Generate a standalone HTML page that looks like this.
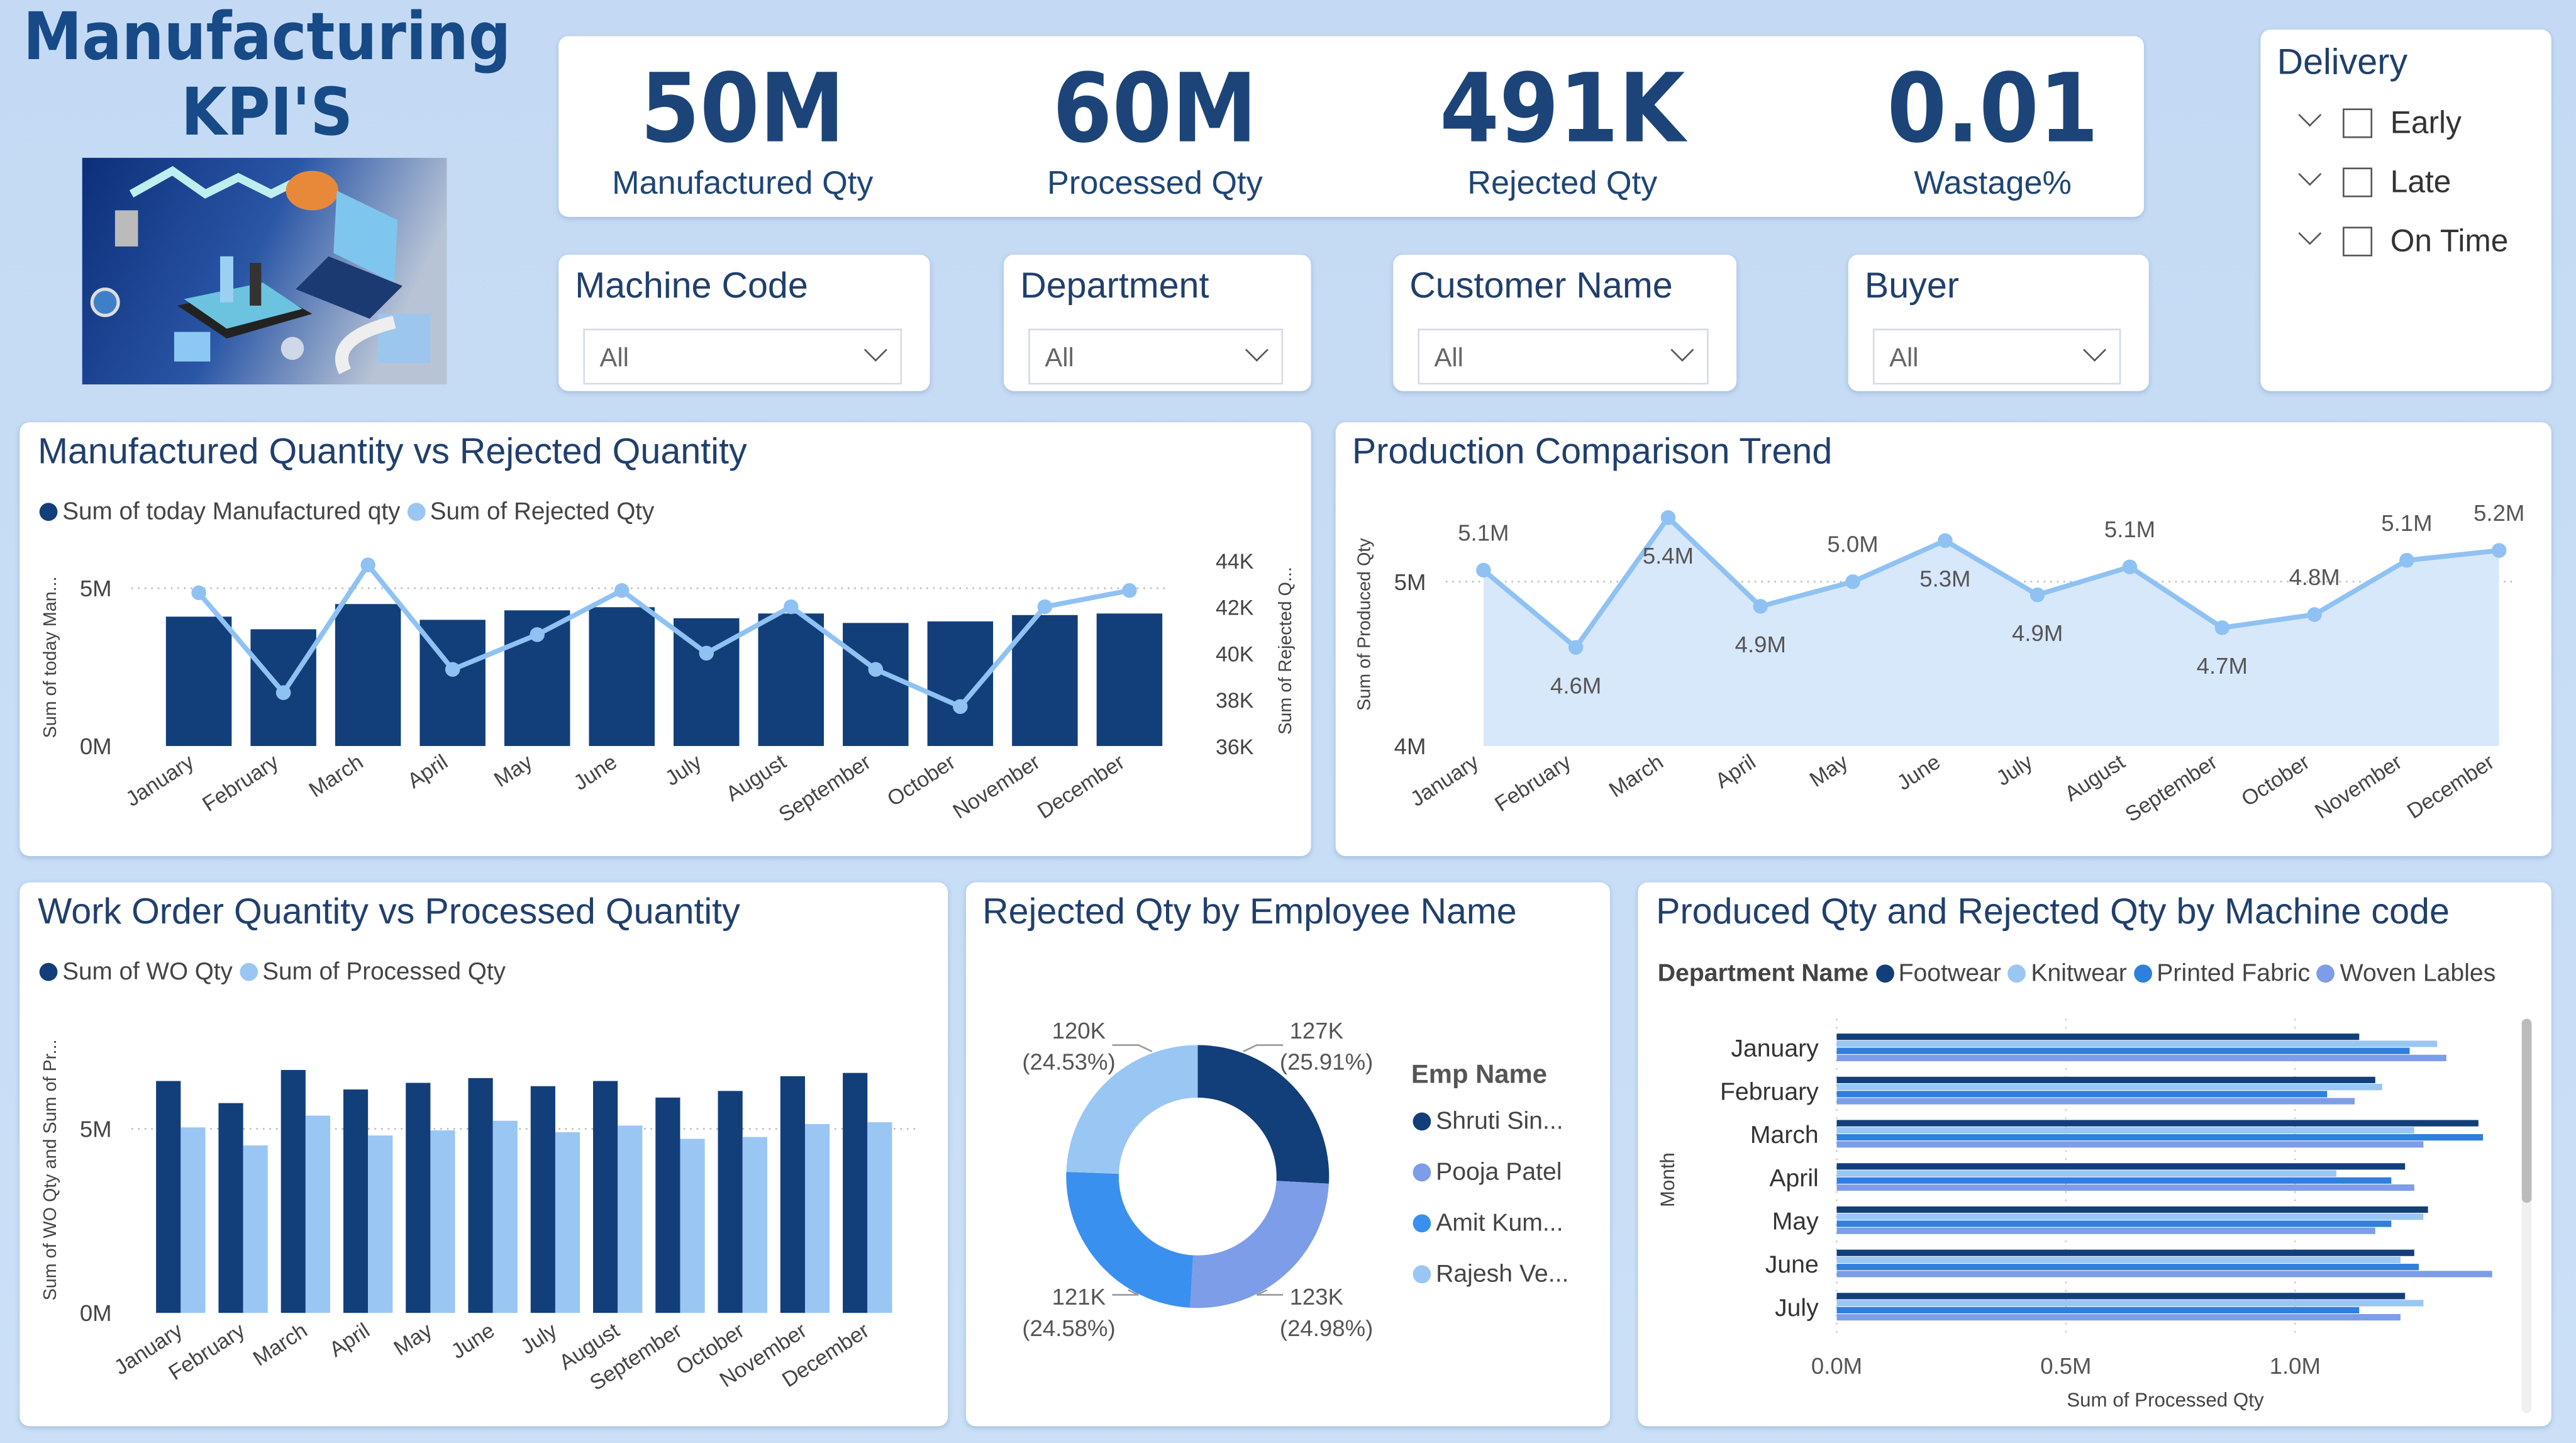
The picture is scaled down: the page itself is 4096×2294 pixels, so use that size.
<!DOCTYPE html>
<html><head><meta charset="utf-8">
<style>
html,body{margin:0;padding:0;}
body{width:4096px;height:2293px;overflow:hidden;background:#c6dcf5;}
#root{position:absolute;left:0;top:0;width:1568px;height:878px;transform:scale(2.61224);transform-origin:0 0;background:linear-gradient(180deg,#c4daf4,#cbe0f7);font-family:"Liberation Sans",sans-serif;color:#253e66;}
.card{position:absolute;background:#fff;border-radius:6px;box-shadow:0 1px 3px rgba(60,90,140,.25);}
.abs{position:absolute;white-space:nowrap;}
.ttl{font-size:22px;color:#203f6d;}
.kv{font-family:"DejaVu Sans Condensed","DejaVu Sans",sans-serif;font-weight:bold;font-size:58px;color:#1c4478;text-align:center;width:240px;}
.kl{font-size:20px;color:#1f4576;text-align:center;width:240px;}
.dd{position:absolute;border:1px solid #d4dbe4;height:32px;font-size:16px;color:#666;}
.dd span{position:absolute;left:9px;top:9px;}
.chev{position:absolute;width:9px;height:9px;border-right:1.6px solid #555;border-bottom:1.6px solid #555;transform:rotate(45deg);}
.leg{font-size:14.8px;color:#444;}
.dot{display:inline-block;width:11px;height:11px;border-radius:50%;vertical-align:-1px;margin-right:3px;}
svg text{font-family:"Liberation Sans",sans-serif;}
</style></head>
<body>
<div id="root">
  <div class="abs" style="left:0;top:0;width:325px;text-align:center;font-family:'DejaVu Sans Condensed','DejaVu Sans',sans-serif;font-weight:bold;font-size:40px;line-height:46px;color:#174a86;">Manufacturing<br>KPI'S</div>

  <svg class="abs" style="left:50px;top:96px" width="222" height="138" viewBox="0 0 222 138">
    <defs><linearGradient id="ig" x1="0" x2="1" y1="0" y2="0.3"><stop offset="0" stop-color="#0d2f7a"/><stop offset="0.55" stop-color="#2a56a6"/><stop offset="1" stop-color="#b8c4d6"/></linearGradient></defs>
    <rect width="222" height="138" fill="url(#ig)"/>
    <polyline points="30,22 55,8 75,22 95,12 115,22 135,12" fill="none" stroke="#bfeef0" stroke-width="5"/>
    <ellipse cx="140" cy="20" rx="16" ry="12" fill="#e8893a"/>
    <polygon points="58,90 110,78 140,95 88,110" fill="#222"/>
    <polygon points="62,86 110,76 134,92 88,104" fill="#6cc3df"/>
    <rect x="84" y="60" width="8" height="28" fill="#9cd0f3"/>
    <rect x="102" y="64" width="7" height="26" fill="#333"/>
    <polygon points="150,60 195,78 175,98 130,80" fill="#1b3a72"/>
    <polygon points="155,20 192,38 190,76 153,58" fill="#7fc6ef"/>
    <rect x="180" y="95" width="32" height="30" fill="#9dc6ee"/>
    <path d="M160,130 Q150,110 190,100" fill="none" stroke="#eee" stroke-width="8"/>
    <circle cx="14" cy="88" r="8" fill="#3e80c8" stroke="#ddd" stroke-width="2"/>
    <rect x="20" y="32" width="14" height="22" fill="#bbb"/>
    <rect x="56" y="106" width="22" height="18" fill="#8dc8f2"/>
    <circle cx="128" cy="116" r="7" fill="#cfd8e6"/>
  </svg>

  <div class="card" style="left:340px;top:22px;width:965px;height:110px;">
    <div class="abs kv" style="left:-8px;top:10px;">50M</div>
    <div class="abs kl" style="left:-8px;top:79px;">Manufactured Qty</div>
    <div class="abs kv" style="left:243px;top:10px;">60M</div>
    <div class="abs kl" style="left:243px;top:79px;">Processed Qty</div>
    <div class="abs kv" style="left:491px;top:10px;">491K</div>
    <div class="abs kl" style="left:491px;top:79px;">Rejected Qty</div>
    <div class="abs kv" style="left:753px;top:10px;">0.01</div>
    <div class="abs kl" style="left:753px;top:79px;">Wastage%</div>
  </div>

  <div class="card" style="left:340px;top:155px;width:226px;height:83px;">
    <div class="abs ttl" style="left:10px;top:6px;">Machine Code</div>
    <div class="dd" style="left:15px;top:45px;width:192px;"><span>All</span><div class="chev" style="left:172px;top:7px"></div></div>
  </div>
  <div class="card" style="left:611px;top:155px;width:187px;height:83px;">
    <div class="abs ttl" style="left:10px;top:6px;">Department</div>
    <div class="dd" style="left:15px;top:45px;width:153px;"><span>All</span><div class="chev" style="left:133px;top:7px"></div></div>
  </div>
  <div class="card" style="left:848px;top:155px;width:209px;height:83px;">
    <div class="abs ttl" style="left:10px;top:6px;">Customer Name</div>
    <div class="dd" style="left:15px;top:45px;width:175px;"><span>All</span><div class="chev" style="left:155px;top:7px"></div></div>
  </div>
  <div class="card" style="left:1125px;top:155px;width:183px;height:83px;">
    <div class="abs ttl" style="left:10px;top:6px;">Buyer</div>
    <div class="dd" style="left:15px;top:45px;width:149px;"><span>All</span><div class="chev" style="left:129px;top:7px"></div></div>
  </div>

  <div class="card" style="left:1376px;top:18px;width:177px;height:220px;">
    <div class="abs ttl" style="left:10px;top:7px;">Delivery</div>
    <div class="chev" style="left:25px;top:47px"></div>
    <div class="abs" style="left:50px;top:48px;width:16px;height:16px;border:1.5px solid #555;"></div>
    <div class="abs" style="left:79px;top:47px;font-size:19px;color:#333;">Early</div>
    <div class="chev" style="left:25px;top:83px"></div>
    <div class="abs" style="left:50px;top:84px;width:16px;height:16px;border:1.5px solid #555;"></div>
    <div class="abs" style="left:79px;top:83px;font-size:19px;color:#333;">Late</div>
    <div class="chev" style="left:25px;top:119px"></div>
    <div class="abs" style="left:50px;top:120px;width:16px;height:16px;border:1.5px solid #555;"></div>
    <div class="abs" style="left:79px;top:119px;font-size:19px;color:#333;">On Time</div>
  </div>

  <div class="card" style="left:12px;top:257px;width:786px;height:264px;"></div>
  <div class="card" style="left:813px;top:257px;width:740px;height:264px;"></div>
  <div class="card" style="left:12px;top:537px;width:565px;height:331px;"></div>
  <div class="card" style="left:588px;top:537px;width:392px;height:331px;"></div>
  <div class="card" style="left:997px;top:537px;width:556px;height:331px;"></div>

  <div class="abs ttl" style="left:23px;top:262px;">Manufactured Quantity vs Rejected Quantity</div>
  <div class="abs leg" style="left:24px;top:304px;"><span class="dot" style="background:#123f7a"></span>Sum of today Manufactured qty <span class="dot" style="background:#9ac6f3"></span>Sum of Rejected Qty</div>
  <div class="abs ttl" style="left:823px;top:262px;">Production Comparison Trend</div>
  <div class="abs ttl" style="left:23px;top:542px;">Work Order Quantity vs Processed Quantity</div>
  <div class="abs leg" style="left:24px;top:584px;"><span class="dot" style="background:#123f7a"></span>Sum of WO Qty <span class="dot" style="background:#9ac6f3"></span>Sum of Processed Qty</div>
  <div class="abs ttl" style="left:598px;top:542px;">Rejected Qty by Employee Name</div>
  <div class="abs ttl" style="left:1008px;top:542px;">Produced Qty and Rejected Qty by Machine code</div>
  <div class="abs leg" style="left:1009px;top:584px;font-size:15px;"><b style="color:#444">Department Name</b> <span class="dot" style="background:#123f7a"></span>Footwear <span class="dot" style="background:#9ac6f3"></span>Knitwear <span class="dot" style="background:#2f7fdc"></span>Printed Fabric <span class="dot" style="background:#7d9de8"></span>Woven Lables</div>
  <div class="abs" style="left:859px;top:646px;font-size:16px;font-weight:bold;color:#555;">Emp Name</div>
  <div class="abs leg" style="left:860px;top:674px;font-size:15px;"><span class="dot" style="background:#123f7a"></span>Shruti Sin...</div>
  <div class="abs leg" style="left:860px;top:705px;font-size:15px;"><span class="dot" style="background:#7d9de8"></span>Pooja Patel</div>
  <div class="abs leg" style="left:860px;top:736px;font-size:15px;"><span class="dot" style="background:#3a90ef"></span>Amit Kum...</div>
  <div class="abs leg" style="left:860px;top:767px;font-size:15px;"><span class="dot" style="background:#9ac6f3"></span>Rajesh Ve...</div>
  <div class="abs" style="left:1535px;top:620px;width:6px;height:240px;background:#f0f0f0;border-radius:3px;"><div style="width:6px;height:112px;background:#bbb;border-radius:3px;"></div></div>

  <svg id="chart" class="abs" style="left:0;top:0" width="1568" height="878"></svg>
</div>
<script>
const months=["January","February","March","April","May","June","July","August","September","October","November","December"];
const mfgQty=[4.1,3.7,4.5,4.0,4.3,4.4,4.05,4.2,3.9,3.95,4.15,4.2];
const rejQty=[42.6,38.3,43.8,39.3,40.8,42.7,40.0,42.0,39.3,37.7,42.0,42.7];
const mfgTicks=["0M","5M"];
const rejTicks=["36K","38K","40K","42K","44K"];
const prodQty=[5.07,4.6,5.39,4.85,5.0,5.25,4.92,5.09,4.72,4.8,5.13,5.19];
const prodLabels=["5.1M","4.6M","5.4M","4.9M","5.0M","5.3M","4.9M","5.1M","4.7M","4.8M","5.1M","5.2M"];
const prodLabelSide=[1,-1,-1,-1,1,-1,-1,1,-1,1,1,1];
const woQty=[6.3,5.7,6.6,6.07,6.25,6.38,6.16,6.3,5.85,6.03,6.43,6.52];
const procQty=[5.04,4.55,5.36,4.82,4.96,5.22,4.91,5.09,4.73,4.78,5.13,5.18];
const empNames=["Shruti Sin...","Pooja Patel","Amit Kum...","Rajesh Ve..."];
const empRej=[127,123,121,120];
const empPct=["25.91%","24.98%","24.58%","24.53%"];
const machMonths=["January","February","March","April","May","June","July"];
const footwear=[1.14,1.175,1.40,1.24,1.29,1.26,1.24];
const knitwear=[1.31,1.19,1.26,1.09,1.28,1.23,1.28];
const printed=[1.25,1.07,1.41,1.21,1.21,1.27,1.14];
const woven=[1.33,1.13,1.28,1.26,1.175,1.43,1.23];
const machTicks=[0,0.5,1.0];

const NS="http://www.w3.org/2000/svg";
const svg=document.getElementById("chart");
function el(tag,attrs,txt){const e=document.createElementNS(NS,tag);for(const k in attrs)e.setAttribute(k,attrs[k]);if(txt!==undefined)e.textContent=txt;svg.appendChild(e);return e;}
const DARK="#123f7a",LIGHT="#9ac6f3";

// Chart 1
const c1x=i=>121+i*51.5, c1y=v=>454-v*19.2, c1r=v=>454-(v-36)*14.125;
let g=el("line",{x1:80,x2:712,y1:c1y(5),y2:c1y(5),stroke:"#bbb","stroke-dasharray":"1,3"});


[0,5].forEach((v,i)=>{const t=el("text",{x:68,y:c1y(v)+5,"text-anchor":"end","font-size":14,fill:"#444"},mfgTicks[i]);

});
rejTicks.forEach((s,i)=>{const t=el("text",{x:740,y:c1r(36+2*i)+5,"font-size":13,fill:"#444"},s);

});
let at=el("text",{transform:"translate(34,400) rotate(-90)","text-anchor":"middle","font-size":11,fill:"#444"},"Sum of today Man...");


at=el("text",{transform:"translate(786,396) rotate(-90)","text-anchor":"middle","font-size":11,fill:"#444"},"Sum of Rejected Q...");


mfgQty.forEach((v,i)=>{const r=el("rect",{x:c1x(i)-20,y:c1y(v),width:40,height:c1y(0)-c1y(v),fill:DARK});

});
let pl=el("polyline",{points:rejQty.map((v,i)=>c1x(i)+","+c1r(v)).join(" "),fill:"none",stroke:"#8fc2f3","stroke-width":3});


rejQty.forEach((v,i)=>{const c=el("circle",{cx:c1x(i),cy:c1r(v),r:4.5,fill:"#8fc2f3"});

});
months.forEach((m,i)=>{const t=el("text",{transform:`translate(${c1x(i)-2},${466}) rotate(-33)`,"text-anchor":"end","font-size":13,fill:"#444"},m);

});

// Chart 2
const c2x=i=>903+i*56.2, c2y=v=>454-(v-4)*100;
g=el("line",{x1:880,x2:1530,y1:c2y(5),y2:c2y(5),stroke:"#bbb","stroke-dasharray":"1,3"});


["4M","5M"].forEach((s,i)=>{const t=el("text",{x:868,y:c2y(4+i)+5,"text-anchor":"end","font-size":14,fill:"#444"},s);

});
at=el("text",{transform:"translate(834,380) rotate(-90)","text-anchor":"middle","font-size":11,fill:"#444"},"Sum of Produced Qty");


let ar=el("polygon",{points:c2x(0)+","+c2y(4)+" "+prodQty.map((v,i)=>c2x(i)+","+c2y(v)).join(" ")+" "+c2x(11)+","+c2y(4),fill:"#d7e8fb"});


pl=el("polyline",{points:prodQty.map((v,i)=>c2x(i)+","+c2y(v)).join(" "),fill:"none",stroke:"#8fc2f3","stroke-width":3});


prodQty.forEach((v,i)=>{const c=el("circle",{cx:c2x(i),cy:c2y(v),r:4.5,fill:"#8fc2f3"});


const t=el("text",{x:c2x(i),y:prodLabelSide[i]>0?c2y(v)-18:c2y(v)+28,"text-anchor":"middle","font-size":14,fill:"#555"},prodLabels[i]);

});
months.forEach((m,i)=>{const t=el("text",{transform:`translate(${c2x(i)-2},466) rotate(-33)`,"text-anchor":"end","font-size":13,fill:"#444"},m);

});

// Chart 3
const c3x=i=>110+i*38, c3y=v=>799-v*22.4;
g=el("line",{x1:80,x2:560,y1:c3y(5),y2:c3y(5),stroke:"#bbb","stroke-dasharray":"1,3"});


["0M","5M"].forEach((s,i)=>{const t=el("text",{x:68,y:c3y(5*i)+5,"text-anchor":"end","font-size":14,fill:"#444"},s);

});
at=el("text",{transform:"translate(34,712) rotate(-90)","text-anchor":"middle","font-size":11,fill:"#444"},"Sum of WO Qty and Sum of Pr...");


woQty.forEach((v,i)=>{const r=el("rect",{x:c3x(i)-15,y:c3y(v),width:15,height:c3y(0)-c3y(v),fill:DARK});

});
procQty.forEach((v,i)=>{const r=el("rect",{x:c3x(i),y:c3y(v),width:15,height:c3y(0)-c3y(v),fill:LIGHT});

});
months.forEach((m,i)=>{const t=el("text",{transform:`translate(${c3x(i)+2},812) rotate(-33)`,"text-anchor":"end","font-size":13,fill:"#444"},m);

});

// Chart 4 donut
const cx=729,cy=716,R=80,r0=48,donutCols=[DARK,"#7d9de8","#3a90ef",LIGHT];
const tot=empRej.reduce((a,b)=>a+b,0);let acc=0;
const pt=(a,rr)=>[cx+rr*Math.sin(a),cy-rr*Math.cos(a)];
empRej.forEach((v,i)=>{const a0=acc/tot*2*Math.PI;acc+=v;const a1=acc/tot*2*Math.PI;const lg=(a1-a0)>Math.PI?1:0;
const p1=pt(a0,R),p2=pt(a1,R),p3=pt(a1,r0),p4=pt(a0,r0);
const p=el("path",{d:`M${p1} A${R},${R} 0 ${lg} 1 ${p2} L${p3} A${r0},${r0} 0 ${lg} 0 ${p4}Z`,fill:donutCols[i]});


const am=(a0+a1)/2,right=Math.sin(am)>0,up=Math.cos(am)>0,sg=right?1:-1;
const e0=pt(up?am*0.6+(right?0:Math.PI*0.8):am,R);
const ly=up?cy-80:cy+72, lx=cx+sg*52;
const knee=[cx+sg*36,ly];
const ln=el("polyline",{points:`${pt(up?(right?0.35:-0.35):(right?Math.PI-0.55:Math.PI+0.55),R+1)} ${knee} ${lx},${ly}`,fill:"none",stroke:"#999","stroke-width":1});


const tx=right?lx+4:lx-4, ty=up?ly-4:ly+6;
const t1=el("text",{x:tx,y:ty,"text-anchor":right?"start":"end","font-size":14,fill:"#555"},v+"K");


const t2=el("text",{x:tx+(right?-6:6),y:ty+19,"text-anchor":right?"start":"end","font-size":14,fill:"#555"},"("+empPct[i]+")");

});

// Chart 5
const c5x=v=>1118+v*279, c5y=i=>629+i*26.3;
machTicks.forEach(v=>{const l=el("line",{x1:c5x(v),x2:c5x(v),y1:620,y2:812,stroke:"#ccc","stroke-dasharray":"1,4"});


const t=el("text",{x:c5x(v),y:836,"text-anchor":"middle","font-size":14,fill:"#555"},v.toFixed(1)+"M");

});
at=el("text",{x:1318,y:856,"text-anchor":"middle","font-size":12,fill:"#444"},"Sum of Processed Qty");


at=el("text",{transform:"translate(1019,718) rotate(-90)","text-anchor":"middle","font-size":12,fill:"#444"},"Month");


const series5=[footwear,knitwear,printed,woven],cols5=[DARK,LIGHT,"#2f7fdc","#7d9de8"];
machMonths.forEach((m,i)=>{const t=el("text",{x:1107,y:c5y(i)+14,"text-anchor":"end","font-size":15,fill:"#333"},m);

});
series5.forEach((s,k)=>s.forEach((v,i)=>{const r=el("rect",{x:c5x(0),y:c5y(i)+k*4.3,width:c5x(v)-c5x(0),height:3.9,fill:cols5[k]});

}));
</script>
</body></html>
